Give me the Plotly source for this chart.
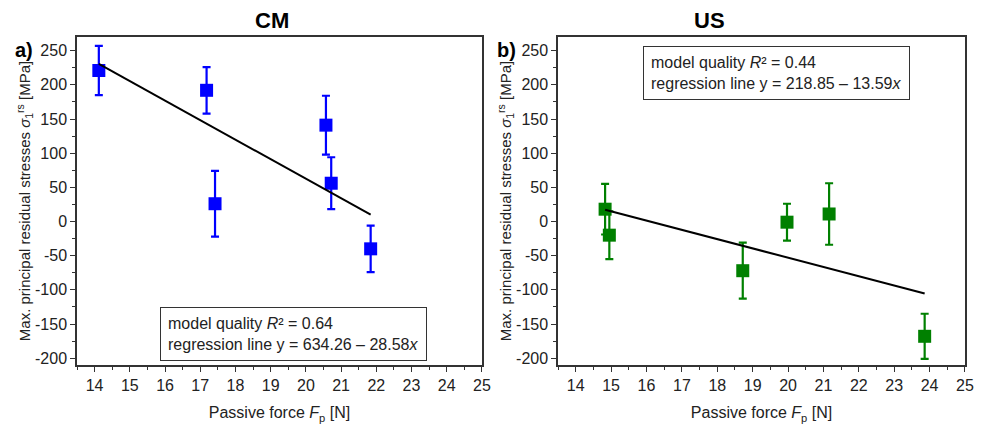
import plotly.graph_objects as go

# CM data
cm_x = [14.12, 17.18, 17.42, 20.57, 20.72, 21.84]
cm_y = [221, 192, 26, 141, 56, -40]
cm_err = [36, 34, 48, 43, 38, 34]
cm_intercept, cm_slope = 634.26, -28.58

# US data
us_x = [14.83, 14.95, 18.72, 19.97, 21.16, 23.86]
us_y = [18, -20, -72, -1, 11, -168]
us_err = [37, 35, 41, 27, 45, 33]
us_intercept, us_slope = 218.85, -13.59

x_ticks = list(range(14, 26))
y_ticks = list(range(-200, 251, 50))
y_ticktext = [str(v) for v in y_ticks]

FONT = "Liberation Sans Narrow, Arial Narrow, Liberation Sans, Arial, sans-serif"

fig = go.Figure()

def add_panel(xs, ys, errs, b0, b1, color, xa, ya):
    fig.add_trace(go.Scatter(
        x=xs, y=ys, mode="markers",
        marker=dict(symbol="square", size=13, color=color),
        error_y=dict(type="data", array=errs, visible=True, thickness=2.2, width=4, color=color),
        xaxis=xa, yaxis=ya, showlegend=False, cliponaxis=False, hoverinfo="skip"))
    xl = [min(xs), max(xs)]
    fig.add_trace(go.Scatter(
        x=xl, y=[b0 + b1 * v for v in xl], mode="lines",
        line=dict(color="black", width=2),
        xaxis=xa, yaxis=ya, showlegend=False, hoverinfo="skip"))

add_panel(cm_x, cm_y, cm_err, cm_intercept, cm_slope, "#0000FF", "x", "y")
add_panel(us_x, us_y, us_err, us_intercept, us_slope, "#008000", "x2", "y2")

ax_common = dict(
    showgrid=False, zeroline=False, showline=True, linecolor="#333", linewidth=1.5,
    mirror=True, ticks="outside", ticklen=5, tickwidth=1, tickcolor="#333",
    tickfont=dict(family=FONT, size=16, color="#222"), automargin=False,
)

ytitle = "Max. principal residual stresses <i>σ</i><sub>1</sub><sup>rs</sup> [MPa]"
xtitle = "Passive force <i>F</i><sub>p</sub> [N]"

xminor = dict(ticks="outside", ticklen=3, tickcolor="#333", dtick=0.5)
yminor = dict(ticks="outside", ticklen=3, tickcolor="#333", dtick=25)

fig.update_layout(
    width=983, height=424,
    margin=dict(l=77, r=18, t=37, b=59),
    paper_bgcolor="white", plot_bgcolor="white",
    font=dict(family=FONT, color="#222"),
    xaxis=dict(domain=[0, 0.456], range=[13.5, 25], tickvals=x_ticks, anchor="y", minor=xminor,
               title=dict(text=xtitle, font=dict(family=FONT, size=16), standoff=14), **ax_common),
    yaxis=dict(domain=[0, 1], range=[-210, 270], tickvals=y_ticks, ticktext=y_ticktext, anchor="x", minor=yminor,
               title=dict(text=ytitle, font=dict(family=FONT, size=15), standoff=0), **ax_common),
    xaxis2=dict(domain=[0.5417, 1], range=[13.5, 25], tickvals=x_ticks, anchor="y2", minor=xminor,
                title=dict(text=xtitle, font=dict(family=FONT, size=16), standoff=14), **ax_common),
    yaxis2=dict(domain=[0, 1], range=[-210, 270], tickvals=y_ticks, ticktext=y_ticktext, anchor="x2", minor=yminor,
                title=dict(text=ytitle, font=dict(family=FONT, size=15), standoff=0), **ax_common),
)

annots = [
    dict(text="<b>CM</b>", x=272, y=20, size=22),
    dict(text="<b>US</b>", x=709, y=20, size=22),
    dict(text="<b>a)</b>", x=24, y=50, size=20),
    dict(text="<b>b)</b>", x=506, y=50, size=20),
]
for a in annots:
    fig.add_annotation(
        text=a["text"], xref="paper", yref="paper",
        x=(a["x"] - 77) / 888, y=(424 - 59 - a["y"]) / 328,
        xanchor="center", yanchor="middle", showarrow=False,
        font=dict(family="Liberation Sans, Arial, sans-serif", size=a["size"], color="black"))

box_text_cm = "model quality <i>R</i>² = 0.64<br>regression line y = 634.26 – 28.58<i>x</i>"
box_text_us = "model quality <i>R</i>² = 0.44<br>regression line y = 218.85 – 13.59<i>x</i>"

fig.add_annotation(text=box_text_cm, xref="x", yref="y", x=13.5 + (160 - 77) / 35.2, y=-210 + (365 - 361) / 0.683,
                   xanchor="left", yanchor="bottom", showarrow=False, align="left",
                   bordercolor="#333", borderwidth=1, borderpad=7, bgcolor="white",
                   font=dict(family=FONT, size=16, color="#222"))
fig.add_annotation(text=box_text_us, xref="x2", yref="y2", x=13.5 + (642 - 558) / 34.8, y=270 - (46 - 37) / 0.683,
                   xanchor="left", yanchor="top", showarrow=False, align="left",
                   bordercolor="#333", borderwidth=1, borderpad=7, bgcolor="white",
                   font=dict(family=FONT, size=16, color="#222"))

fig.write_html("out.html", config={"displayModeBar": False},
               post_script="document.body.style.margin='0px';document.body.style.overflow='hidden';")
